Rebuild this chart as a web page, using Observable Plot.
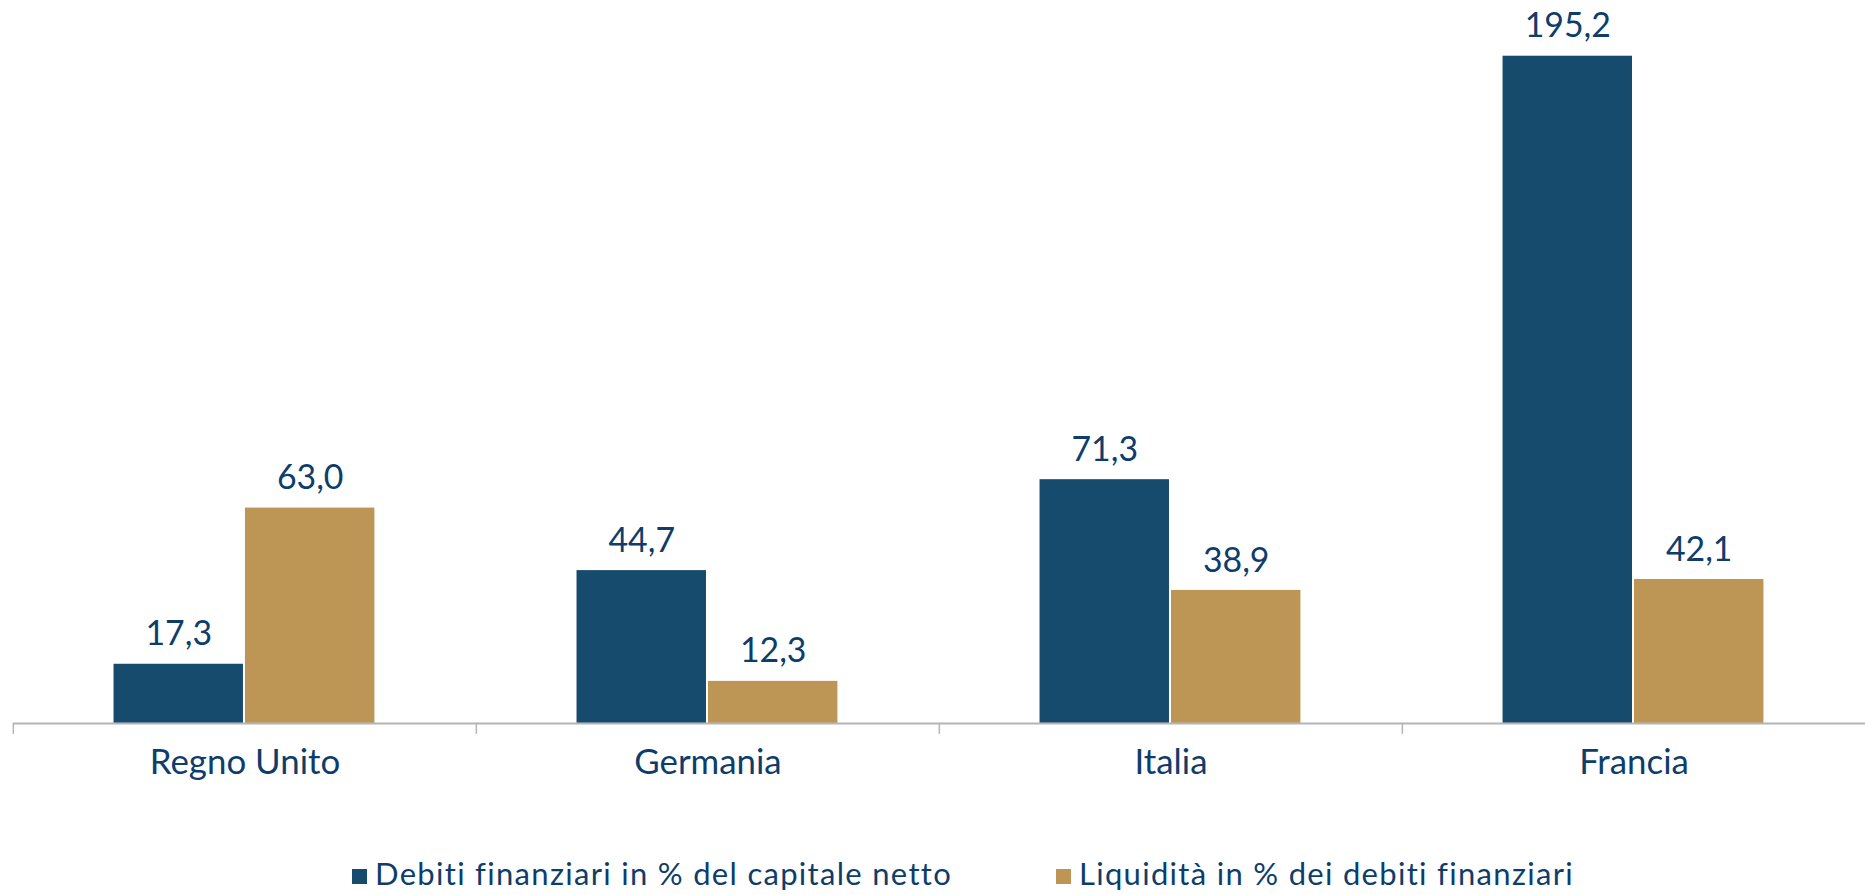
<!DOCTYPE html>
<html>
<head>
<meta charset="utf-8">
<script src="https://cdn.jsdelivr.net/npm/d3@7"></script>
<script src="https://cdn.jsdelivr.net/npm/@observablehq/plot@0.6"></script>
<style>
  html, body { margin: 0; padding: 0; background: #fff; overflow: hidden; width: 1865px; height: 895px; }
  #chart svg { display: block; }
  .legend { position: relative; height: 84px; font-family: Lato, sans-serif; font-size: 31px; letter-spacing: 1.3px; color: #0e3d6b; }
  .legend .item { position: absolute; top: 45px; display: flex; align-items: center; line-height: 40px; white-space: nowrap; }
  .legend .sw { width: 15px; height: 15px; margin-right: 8px; position: relative; top: 4px; }
</style>
</head>
<body>
<div id="chart"></div>
<script>
const countries = ["Regno Unito", "Germania", "Italia", "Francia"];
const seriesNames = ["Debiti finanziari in % del capitale netto", "Liquidità in % dei debiti finanziari"];
const debiti = [17.3, 44.7, 71.3, 195.2];
const liquidita = [63.0, 12.3, 38.9, 42.1];
const colors = ["#164b6e", "#bd9555"];
const textColor = "#0e3d6b";

const data = [];
countries.forEach((c, i) => {
  data.push({country: c, series: seriesNames[0], value: debiti[i]});
  data.push({country: c, series: seriesNames[1], value: liquidita[i]});
});
const fmt = v => v.toFixed(1).replace(".", ",");

const W = 1873, H = 811, ML = 12, MR = 0, MB = 85;
const facetW = (W - ML - MR) / countries.length;

const chart = Plot.plot({
  width: W,
  height: H,
  marginLeft: ML,
  marginRight: MR,
  marginTop: 0,
  marginBottom: MB,
  style: {fontFamily: "Lato, sans-serif", background: "#fff"},
  fx: {domain: countries, padding: 0, axis: null},
  x: {domain: seriesNames, paddingInner: 0.015, paddingOuter: 0.756, axis: null},
  y: {domain: [0, 211.5], axis: null},
  color: {domain: seriesNames, range: colors},
  marks: [
    Plot.barY(data, {fx: "country", x: "series", y: "value", fill: "series"}),
    Plot.ruleY([0], {stroke: "#b4b4b4", strokeWidth: 2}),
    Plot.axisFx({anchor: "bottom", tickSize: 11, tickFormat: () => "", dx: -facetW / 2, stroke: "#b4b4b4", strokeWidth: 1.5, label: null}),
    Plot.axisFx({anchor: "bottom", tickSize: 0, tickPadding: 26, fontSize: 35, fill: textColor, label: null}),
    Plot.text(data, {fx: "country", x: "series", y: "value", text: d => fmt(d.value), dy: -19, lineAnchor: "bottom", fontSize: 34, fill: textColor})
  ]
});
document.getElementById("chart").appendChild(chart);

const legend = document.createElement("div");
legend.className = "legend";
const legendLeft = [352, 1056];
seriesNames.forEach((s, i) => {
  const it = document.createElement("div");
  it.className = "item";
  it.style.left = legendLeft[i] + "px";
  const sw = document.createElement("span");
  sw.className = "sw";
  sw.style.background = colors[i];
  const t = document.createElement("span");
  t.textContent = s;
  it.appendChild(sw); it.appendChild(t);
  legend.appendChild(it);
});
document.body.appendChild(legend);
</script>
</body>
</html>
